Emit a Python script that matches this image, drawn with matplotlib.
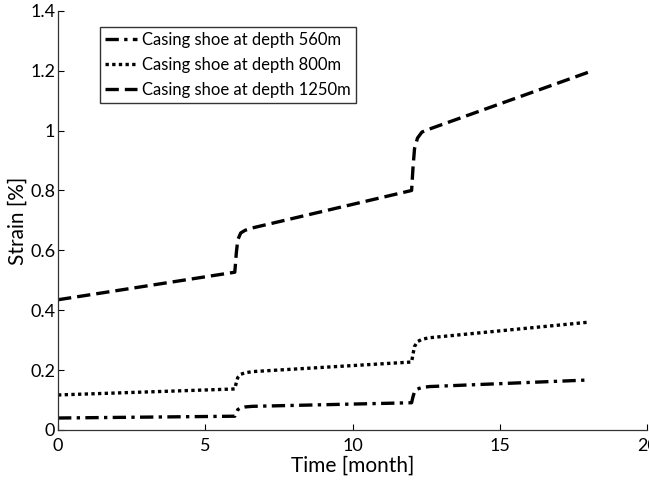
import matplotlib
matplotlib.use("Agg")
import matplotlib.pyplot as plt

plt.rcParams["font.family"] = ["Lato", "DejaVu Sans"]

# time axis [month] with extra points around the two jumps
time = [0, 6, 6.05, 6.1, 6.2, 6.35, 6.6, 12, 12.05, 12.1, 12.2, 12.35, 12.6, 18]

strain_560 = [0.040, 0.046, 0.058, 0.068, 0.074, 0.077, 0.079,
              0.091, 0.112, 0.128, 0.137, 0.142, 0.145, 0.167]
strain_800 = [0.117, 0.137, 0.158, 0.175, 0.186, 0.191, 0.195,
              0.227, 0.255, 0.279, 0.295, 0.303, 0.308, 0.360]
strain_1250 = [0.435, 0.527, 0.590, 0.635, 0.658, 0.667, 0.675,
               0.800, 0.880, 0.940, 0.975, 0.995, 1.005, 1.195]

labels = ["Casing shoe at depth 560m",
          "Casing shoe at depth 800m",
          "Casing shoe at depth 1250m"]

fig = plt.figure(figsize=(6.49, 4.84), dpi=100)
ax = fig.add_axes([0.0894, 0.1116, 0.908, 0.866])

ax.plot(time, strain_560, color="black", lw=2.4, ls=(0, (4, 1.6, 1, 1.6)), label=labels[0])
ax.plot(time, strain_800, color="black", lw=2.4, ls=(0, (1, 1)), label=labels[1])
ax.plot(time, strain_1250, color="black", lw=2.4, ls=(0, (4, 1.8)), label=labels[2])

ax.set_xlim(0, 20)
ax.set_ylim(0, 1.4)
ax.set_xticks([0, 5, 10, 15, 20])
ax.set_yticks([0, 0.2, 0.4, 0.6, 0.8, 1.0, 1.2, 1.4])
ax.set_yticklabels(["0", "0.2", "0.4", "0.6", "0.8", "1", "1.2", "1.4"])
ax.tick_params(direction="in", length=4, width=0.8, labelsize=13, pad=2)
ax.tick_params(axis="x", pad=6)
ax.spines["top"].set_visible(False)
ax.spines["right"].set_visible(False)
for s in ("left", "bottom"):
    ax.spines[s].set_linewidth(0.9)
    ax.spines[s].set_color("#333333")

ax.set_xlabel("Time [month]", fontsize=15, labelpad=1)
ax.set_ylabel("Strain [%]", fontsize=15, labelpad=2)

leg = ax.legend(loc="upper left", bbox_to_anchor=(0.072, 0.962), fontsize=12,
                frameon=True, fancybox=False, handlelength=1.9,
                handletextpad=0.3, borderpad=0.3, labelspacing=0.55,
                borderaxespad=0)
leg.get_frame().set_edgecolor("black")
leg.get_frame().set_linewidth(1.0)

fig.savefig("out.png", dpi=100)
